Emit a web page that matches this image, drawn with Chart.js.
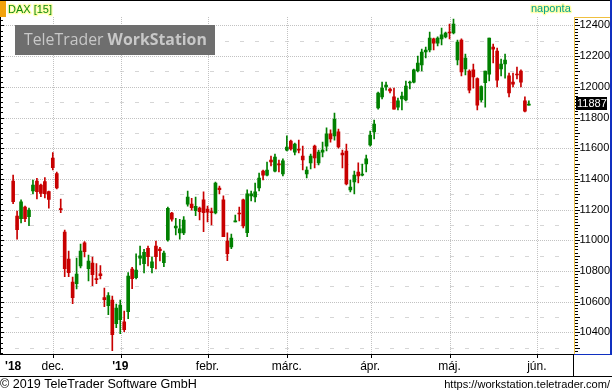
<!DOCTYPE html>
<html>
<head>
<meta charset="utf-8">
<script src="https://cdn.jsdelivr.net/npm/chart.js@4/dist/chart.umd.min.js"></script>
<style>
html,body{margin:0;padding:0;background:#fff;}
canvas{display:block;}
</style>
</head>
<body>
<canvas id="c" width="612" height="392"></canvas>
<script>
// trading days (categories) incl. empty future slots
const dates = [
"2018-11-19","2018-11-20","2018-11-21","2018-11-22","2018-11-23","2018-11-26","2018-11-27","2018-11-28","2018-11-29","2018-11-30",
"2018-12-03","2018-12-04","2018-12-05","2018-12-06","2018-12-07","2018-12-10","2018-12-11","2018-12-12","2018-12-13","2018-12-14",
"2018-12-17","2018-12-18","2018-12-19","2018-12-20","2018-12-21","2018-12-27","2018-12-28",
"2019-01-02","2019-01-03","2019-01-04","2019-01-07","2019-01-08","2019-01-09","2019-01-10","2019-01-11","2019-01-14","2019-01-15",
"2019-01-16","2019-01-17","2019-01-18","2019-01-21","2019-01-22","2019-01-23","2019-01-24","2019-01-25","2019-01-28","2019-01-29",
"2019-01-30","2019-01-31",
"2019-02-01","2019-02-04","2019-02-05","2019-02-06","2019-02-07","2019-02-08","2019-02-11","2019-02-12","2019-02-13","2019-02-14",
"2019-02-15","2019-02-18","2019-02-19","2019-02-20","2019-02-21","2019-02-22","2019-02-25","2019-02-26","2019-02-27","2019-02-28",
"2019-03-01","2019-03-04","2019-03-05","2019-03-06","2019-03-07","2019-03-08","2019-03-11","2019-03-12","2019-03-13","2019-03-14",
"2019-03-15","2019-03-18","2019-03-19","2019-03-20","2019-03-21","2019-03-22","2019-03-25","2019-03-26","2019-03-27","2019-03-28",
"2019-03-29",
"2019-04-01","2019-04-02","2019-04-03","2019-04-04","2019-04-05","2019-04-08","2019-04-09","2019-04-10","2019-04-11","2019-04-12",
"2019-04-15","2019-04-16","2019-04-17","2019-04-18","2019-04-23","2019-04-24","2019-04-25","2019-04-26","2019-04-29","2019-04-30",
"2019-05-02","2019-05-03","2019-05-06","2019-05-07","2019-05-08","2019-05-09","2019-05-10","2019-05-13","2019-05-14","2019-05-15",
"2019-05-16","2019-05-17","2019-05-20","2019-05-21","2019-05-22","2019-05-23","2019-05-24","2019-05-27","2019-05-28","2019-05-29",
"2019-05-30",
"2019-05-31","2019-06-03","2019-06-04","2019-06-05","2019-06-06","2019-06-07","2019-06-10","2019-06-11","2019-06-12","2019-06-13",
"2019-06-14"
];

const open = [
11386,11158,11141,11217,11154,11321,11386,11360,11382,11317,
11536,11434,11206,11054,10878,10728,10717,10833,10984,10815,
10852,10750,10782,10626,10574,10611,10457,10483,10468,10535,
10813,10756,10884,10848,10948,10821,10963,10943,10854,11002,
11178,11080,11048,11048,11236,11236,11193,11210,11263,11204,
11186,11178,11341,11263,10995,10956,11119,11178,11263,11050,
11289,11282,11341,11451,11425,11523,11451,11497,11432,11588,
11647,11575,11595,11549,11432,11504,11614,11504,11575,11614,
11693,11680,11706,11569,11582,11328,11380,11445,11425,11497,
11621,11706,11862,11934,11999,11986,11934,11868,11921,11914,
12025,12031,12103,12142,12227,12240,12312,12285,12312,12325,
12357,12351,12175,12305,12116,12103,12110,12053,11914,12027,
12083,12259,12233,12116,12149,12071,12031,12083,12103,11908,
11881
];
const high = [
11425,11191,11263,11223,11210,11393,11404,11367,11408,11321,
11571,11445,11269,11067,10930,10761,10884,10976,10991,10904,
10891,10848,10835,10689,10659,10637,10585,10611,10539,10789,
10824,10911,10963,10941,10963,10891,10995,10954,10930,11217,
11182,11143,11137,11154,11321,11274,11282,11217,11315,11223,
11210,11380,11354,11289,11048,11041,11165,11217,11269,11328,
11321,11373,11438,11458,11510,11549,11562,11523,11530,11680,
11653,11634,11653,11614,11478,11562,11621,11588,11640,11732,
11719,11829,11725,11588,11627,11393,11451,11504,11497,11556,
11712,11784,11966,12031,12031,11992,11992,11927,11966,12038,
12038,12116,12201,12246,12259,12357,12318,12325,12383,12357,
12409,12442,12305,12312,12214,12110,12149,12059,12007,12103,
12318,12279,12253,12181,12214,12090,12090,12129,12110,11934,
11908
];
const low = [
11238,11008,11113,11121,11095,11304,11269,11284,11276,11210,
11458,11334,11180,10763,10763,10587,10683,10820,10891,10735,
10704,10717,10748,10567,10515,10281,10431,10392,10405,10489,
10685,10748,10839,10787,10833,10787,10813,10865,10828,10995,
11124,11035,11008,11036,11223,11197,11160,11132,11056,11119,
11100,11171,11302,11023,10867,10945,11119,11126,11080,11023,
11256,11250,11321,11393,11419,11484,11445,11445,11419,11582,
11588,11556,11569,11458,11406,11465,11471,11491,11543,11582,
11640,11653,11601,11471,11360,11315,11302,11373,11419,11445,
11614,11660,11855,11921,11979,11960,11855,11849,11849,11908,
11986,12025,12097,12103,12188,12227,12240,12266,12273,12318,
12312,12344,12142,12071,12077,11960,11992,11849,11901,11868,
12038,12155,11999,12071,12057,11934,11999,12051,11999,11836,
11881
];
const close = [
11251,11069,11250,11141,11197,11360,11317,11306,11304,11267,
11473,11341,11199,10815,10789,10626,10780,10930,10926,10865,
10776,10743,10769,10613,10639,10385,10559,10578,10418,10767,
10750,10806,10898,10922,10893,10859,10893,10932,10917,11208,
11137,11093,11074,11132,11282,11212,11221,11186,11180,11184,
11180,11373,11330,11023,10913,11015,11126,11171,11093,11302,
11302,11315,11406,11425,11458,11510,11543,11491,11517,11608,
11595,11627,11588,11523,11458,11549,11536,11575,11588,11693,
11660,11790,11608,11556,11367,11347,11425,11419,11432,11530,
11686,11758,11960,11992,12012,11973,11855,11908,11940,12005,
12031,12110,12155,12227,12240,12318,12285,12318,12338,12351,
12351,12409,12292,12097,12188,11979,12064,11881,12001,12103,
12318,12246,12044,12149,12175,11960,12018,12077,12031,11842,
11887
];

const yTicks = [10400,10600,10800,11000,11200,11400,11600,11800,12000,12200,12400];
const monthLabels = ["'18","dec.","'19","febr.","márc.","ápr.","máj.","jún."];
const monthDates  = ["2018-11-19","2018-12-03","2019-01-02","2019-02-01","2019-03-01","2019-04-01","2019-05-02","2019-06-03"];
const yearLabels = ["'18","'19"];

const UP = '#008000', DOWN = '#c80000';
const candleColors = close.map((c, i) => c >= open[i] ? UP : DOWN);
const wickData = low.map((l, i) => [l, high[i]]);
const bodyData = open.map((o, i) => [o, close[i]]);

function fitFont(c, text, target, weight, family) {
  c.font = weight + ' 20px ' + family;
  const w = c.measureText(text).width;
  return 20 * target / w;
}

const ttPlugin = {
  id: 'tt',
  beforeDraw(chart) {
    const c = chart.ctx, xs = chart.scales.x, ys = chart.scales.y, a = chart.chartArea;
    c.save();
    c.fillStyle = '#fff';
    c.fillRect(0, 0, chart.width, chart.height);
    // horizontal dotted grid lines
    c.fillStyle = '#c2c2c2';
    yTicks.forEach(v => {
      const py = Math.round(ys.getPixelForValue(v));
      for (let px = 2; px < 574; px += 2) c.fillRect(px, py, 1, 1);
    });
    // minor dashes halfway
    c.fillStyle = '#d6d6d6';
    [yTicks[0] - 100].concat(yTicks.map(v => v + 100)).forEach(v => {
      if (v <= ys.min || v >= ys.max) return;
      const py = Math.round(ys.getPixelForValue(v));
      for (let px = 15; px < 570; px += 15) c.fillRect(px, py, 4, 1);
    });
    // vertical month grid lines
    c.fillStyle = '#c2c2c2';
    monthDates.forEach((d, k) => {
      if (k === 0) return;
      const px = Math.floor(xs.getPixelForValue(dates.indexOf(d))) + 1;
      for (let py = Math.round(a.top); py < a.bottom; py += 2) c.fillRect(px, py, 1, 1);
    });
    // watermark
    c.fillStyle = '#6e6e6e';
    c.fillRect(15, 25, 200, 30);
    const fam = '"Open Sans", "Liberation Sans", sans-serif';
    c.font = '20px ' + fam;
    const w1 = c.measureText('TeleTrader ').width;
    c.font = 'bold 20px ' + fam;
    const w2 = c.measureText('WorkStation').width;
    const fs = 20 * 183 / (w1 + w2);
    c.fillStyle = '#c8c8c8';
    c.textBaseline = 'middle';
    c.textAlign = 'left';
    c.font = fs + 'px ' + fam;
    c.fillText('TeleTrader ', 24, 40.5);
    const ww = c.measureText('TeleTrader ').width;
    c.font = 'bold ' + fs + 'px ' + fam;
    c.fillText('WorkStation', 24 + ww, 40.5);
    // header
    c.fillStyle = '#000';
    c.fillRect(0, 0, 610, 1);
    c.fillStyle = '#f2a20c';
    c.fillRect(0, 1, 6, 16);
    c.font = '11px "Liberation Sans", Arial, sans-serif';
    c.lineWidth = 2.5;
    c.lineJoin = 'round';
    c.strokeStyle = '#ffffa8';
    c.strokeText('DAX [15]', 8, 9.5);
    c.fillStyle = '#118a11';
    c.fillText('DAX [15]', 8, 9.5);
    c.strokeText('naponta', 531, 9);
    c.fillStyle = '#00a08c';
    c.fillText('naponta', 531, 9);
    c.restore();
  },
  afterDraw(chart) {
    const c = chart.ctx, xs = chart.scales.x, ys = chart.scales.y, a = chart.chartArea;
    c.save();
    const bottom = 354;
    // left border and ticks
    c.fillStyle = '#000';
    c.fillRect(0, 17, 1, bottom - 17);
    for (let k = -12; k <= 80; k++) {
      const v = yTicks[0] + k * 200 / 6;
      const py = Math.round(ys.getPixelForValue(v));
      if (py < 17 || py >= bottom) continue;
      c.fillRect(0, py, k % 6 === 0 ? 4 : 3, 1);
    }
    // x axis lines
    c.fillRect(0, bottom, 574, 1);
    c.fillRect(0, 376, 612, 1);
    c.fillRect(573, bottom, 1, 376 - bottom);
    monthDates.forEach((d, k) => {
      if (k === 0) return;
      const px = Math.floor(xs.getPixelForValue(dates.indexOf(d))) + 1;
      c.fillRect(px, bottom + 1, 1, 3);
    });
    // right panel ticks
    for (let v = 10260; v <= 12440; v += 20) {
      const py = Math.round(ys.getPixelForValue(v));
      if (py < 18 || py >= bottom) continue;
      c.fillRect(575, py, v % 100 === 0 ? 5 : 3, 1);
    }
    // right panel frame
    c.fillStyle = '#f0c040';
    c.fillRect(574, 17, 1, bottom - 17);
    c.fillRect(574, 17, 36, 1);
    c.fillStyle = '#1030c0';
    c.fillRect(610, 0, 2, bottom + 1);
    c.fillRect(574, bottom, 38, 1);
    // last value box
    const last = close[close.length - 1];
    const ly = ys.getPixelForValue(last);
    c.fillStyle = '#000';
    c.fillRect(576, Math.round(ly) - 7, 31, 13);
    c.fillStyle = '#fff';
    c.font = '11px "Liberation Sans", Arial, sans-serif';
    c.textBaseline = 'middle';
    c.textAlign = 'left';
    c.fillText(String(last), 577, Math.round(ly) - 0.5);
    // footer
    c.fillStyle = '#000';
    const ff = '"Liberation Sans", Arial, sans-serif';
    const s1 = fitFont(c, '© 2019 TeleTrader Software GmbH', 197, '', ff);
    c.font = s1 + 'px ' + ff;
    c.fillText('© 2019 TeleTrader Software GmbH', 0, 384.5);
    const s2 = fitFont(c, 'https://workstation.teletrader.com/', 166, '', ff);
    c.font = s2 + 'px ' + ff;
    c.textAlign = 'right';
    c.fillText('https://workstation.teletrader.com/', 610, 384.5);
    c.restore();
  }
};

new Chart(document.getElementById('c'), {
  type: 'bar',
  data: {
    labels: dates,
    datasets: [
      { label: 'wick', data: wickData, backgroundColor: candleColors, barThickness: 1, grouped: false, borderWidth: 0 },
      { label: 'body', data: bodyData, backgroundColor: candleColors, barThickness: 3, grouped: false, borderWidth: 0, minBarLength: 1 }
    ]
  },
  options: {
    responsive: false,
    animation: false,
    devicePixelRatio: 1,
    layout: { padding: { left: 6.5, right: 2, top: 17, bottom: 0 } },
    plugins: { legend: { display: false }, tooltip: { enabled: false } },
    scales: {
      x: {
        type: 'category',
        offset: true,
        grid: { display: false, drawTicks: false },
        border: { display: false },
        afterFit: s => { s.height = 38; },
        ticks: {
          autoSkip: false,
          maxRotation: 0,
          minRotation: 0,
          padding: 5,
          color: '#000',
          font: ctx => {
            const d = dates[ctx.index];
            const k = monthDates.indexOf(d);
            const bold = k >= 0 && yearLabels.includes(monthLabels[k]);
            return { family: '"Liberation Sans", Arial, sans-serif', size: 12, weight: bold ? 'bold' : 'normal' };
          },
          callback: (val, idx) => {
            const k = monthDates.indexOf(dates[idx]);
            return k >= 0 ? monthLabels[k] : '';
          }
        }
      },
      y: {
        position: 'right',
        min: 10259,
        max: 12455,
        grid: { display: false, drawTicks: false },
        border: { display: false },
        afterBuildTicks: s => { s.ticks = yTicks.map(v => ({ value: v })); },
        afterFit: s => { s.width = 35.5; },
        ticks: {
          padding: 5,
          color: '#000',
          font: { family: '"Liberation Sans", Arial, sans-serif', size: 11 },
          callback: v => String(v)
        }
      }
    }
  },
  plugins: [ttPlugin]
});
</script>
</body>
</html>
